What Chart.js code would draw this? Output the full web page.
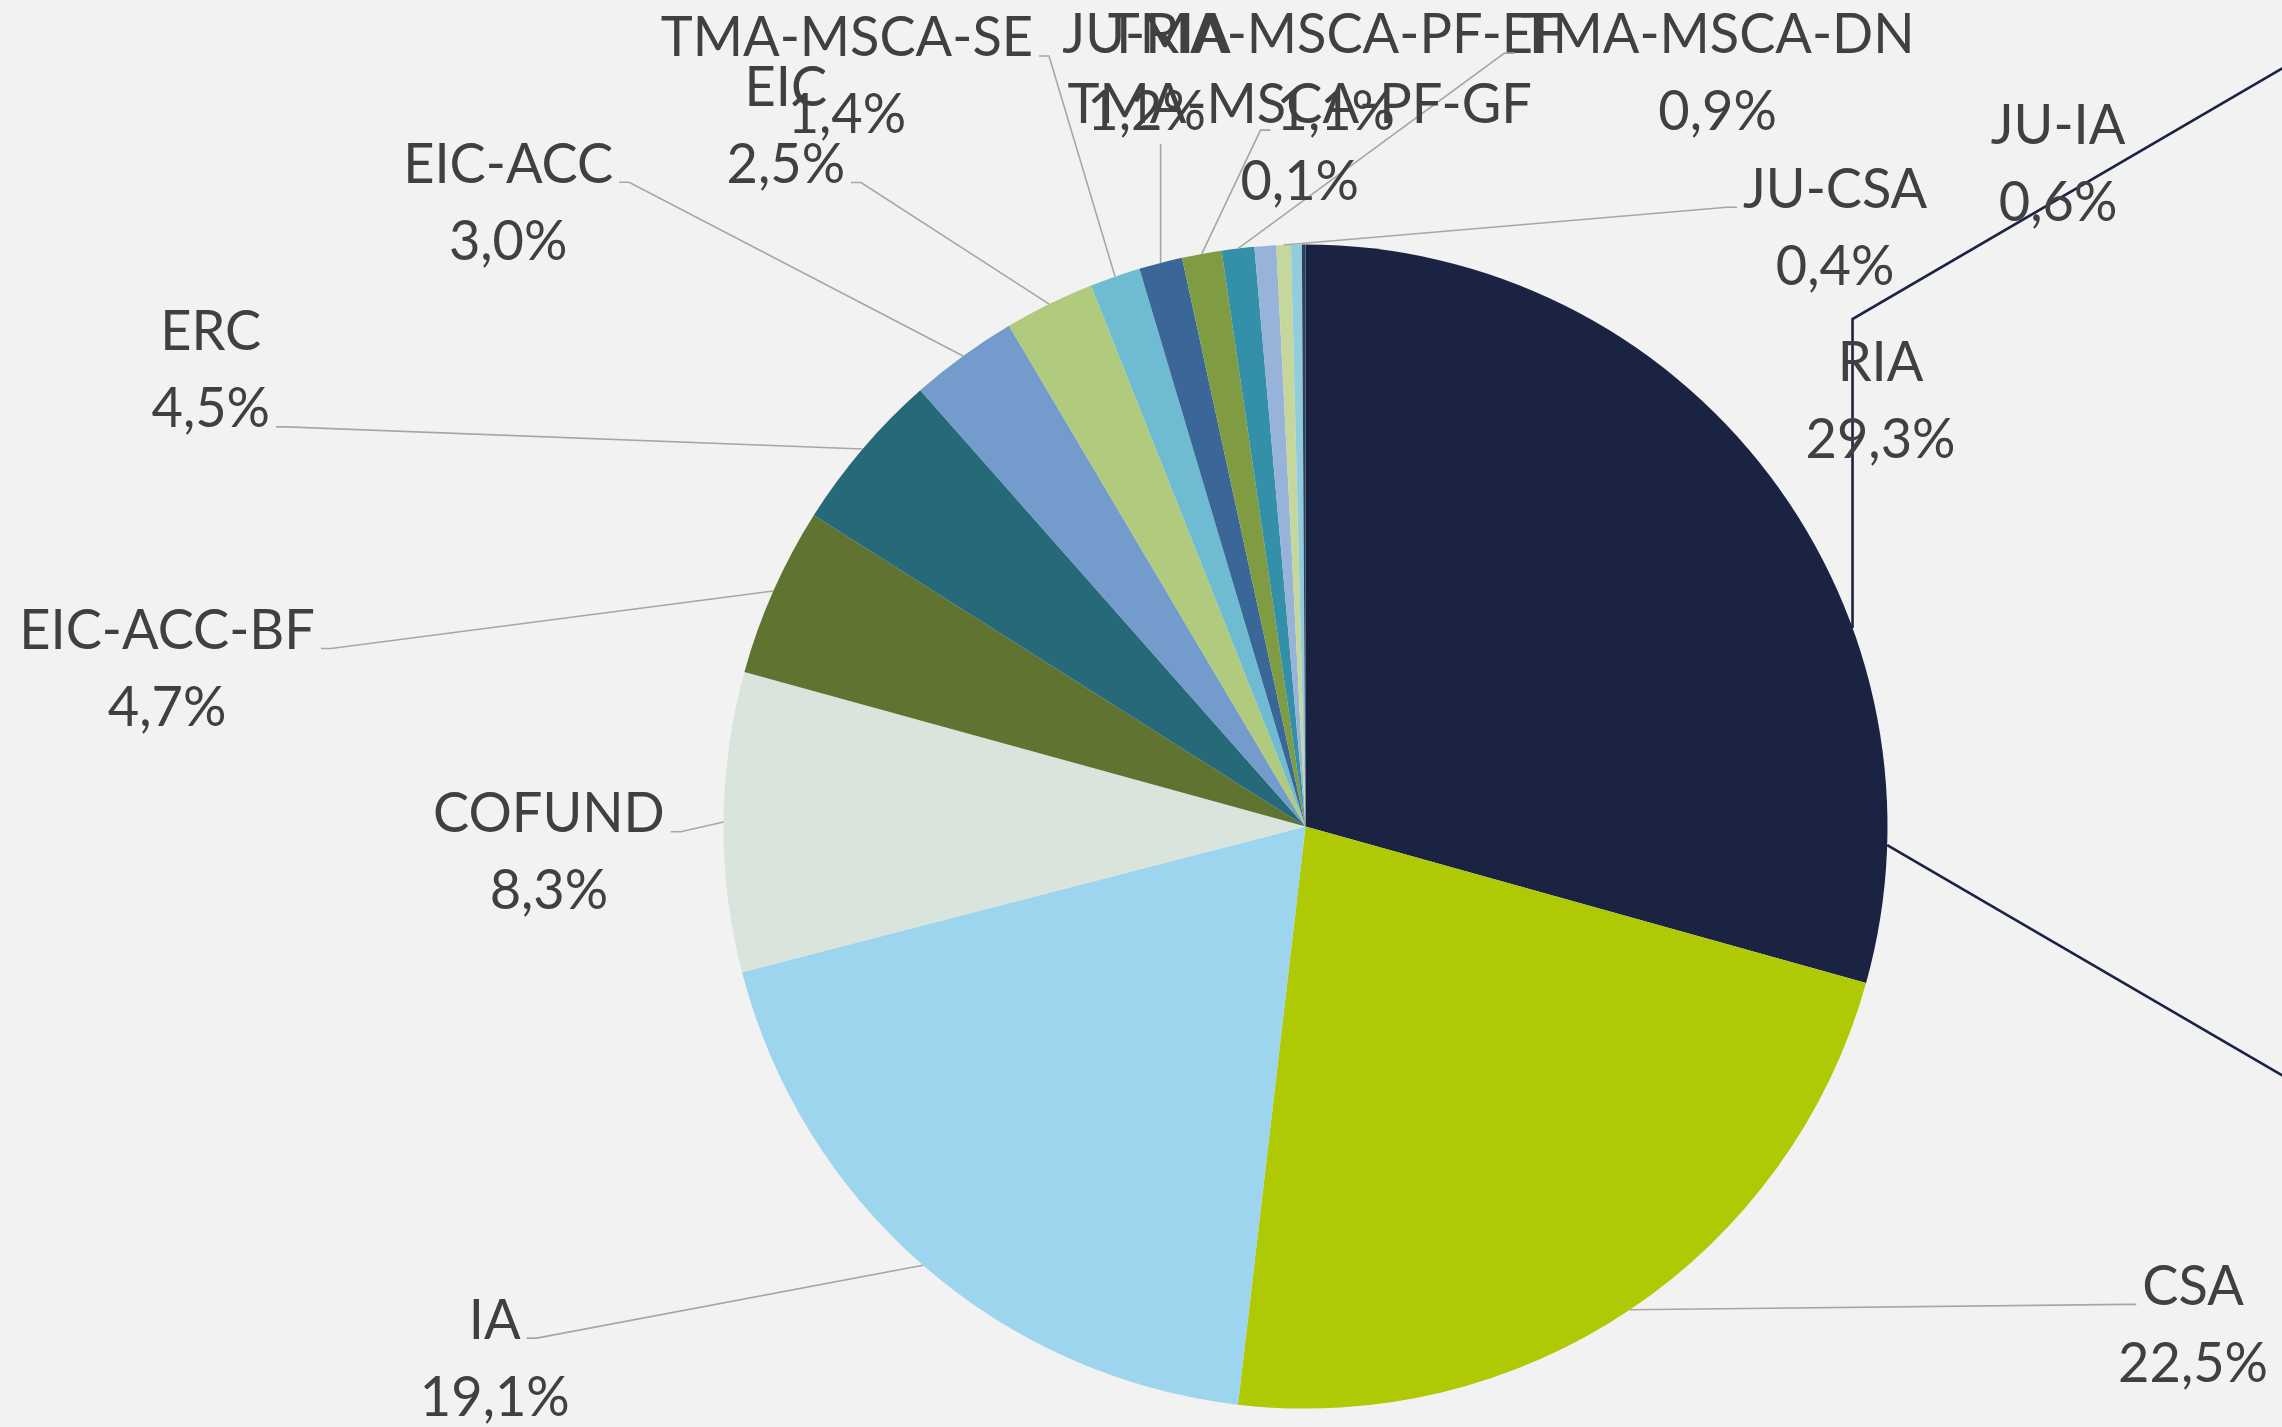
<!DOCTYPE html>
<html>
<head>
<meta charset="utf-8">
<script src="https://cdn.jsdelivr.net/npm/chart.js@4/dist/chart.umd.min.js"></script>
<style>
  html, body { margin: 0; padding: 0; background: #f2f2f2; }
  #wrap { width: 2282px; height: 1427px; position: relative; }
</style>
</head>
<body>
<div id="wrap"><canvas id="myChart"></canvas></div>
<script>
// categories clockwise from 12 o'clock
const categories = ['RIA', 'CSA', 'IA', 'COFUND', 'EIC-ACC-BF', 'ERC', 'EIC-ACC', 'EIC',
  'TMA-MSCA-SE', 'JU-RIA', 'TMA-MSCA-PF-EF', 'TMA-MSCA-DN', 'JU-IA', 'JU-CSA', '', 'TMA-MSCA-PF-GF']
const shares = [29.3, 22.5, 19.1, 8.3, 4.7, 4.5, 3.0, 2.5, 1.4, 1.2, 1.1, 0.9, 0.6, 0.4, 0.3, 0.1]
const colors = ['#1b2343', '#afca04', '#9dd4ee', '#d8e4dc', '#617330', '#266a7a', '#739bcb', '#b0ca7e',
  '#6fbcd2', '#3a6698', '#7f9c42', '#348fa8', '#97b3d9', '#c6d79c', '#92cddf', '#2b3f5e']

// label layout: centre of first text line, relative to pie centre, in radius units
const labelPos = [
  [0.988, -0.798], [1.525, 0.790], [-1.393, 0.848], [-1.300, -0.022], [-1.956, -0.337],
  [-1.881, -0.850], [-1.370, -1.138], [-0.893, -1.270], [-0.788, -1.355], [-0.273, -1.360],
  [0.052, -1.360], [0.708, -1.360], [1.293, -1.205], [0.910, -1.095], null, [-0.010, -1.240]
]
// where the leader line leaves the label: side (L/R/B) + text line
const labelLink = ['', 'L0', 'R0', 'R0', 'R0', 'R1', 'R0', 'R1', 'R0', 'B', 'L1', 'L0', '', 'L0', '', '']

const FONT_SIZE = 57
const SQUEEZE = 0.95 // Lato is a bit wider than the original Calibri
const LINE_H = 77

function pct(v) {
  return v.toFixed(1).replace('.', ',') + '%'
}

const outsideLabels = {
  id: 'outsideLabels',
  afterDatasetsDraw(chart) {
    const ctx = chart.ctx
    const arcs = chart.getDatasetMeta(0).data
    const cx = arcs[0].x, cy = arcs[0].y, R = arcs[0].outerRadius

    // pie-of-pie connector lines on the right
    ctx.save()
    ctx.strokeStyle = '#1b2343'
    ctx.lineWidth = 2.6
    const ux = 0.9399
    const slope = 0.5833
    ctx.beginPath()
    ctx.moveTo(cx + ux * R, cy - Math.sqrt(1 - ux * ux) * R)
    ctx.lineTo(cx + ux * R, cy - 0.872 * R)
    ctx.lineTo(chart.width + 10, cy - 0.872 * R - slope * (chart.width + 10 - (cx + ux * R)))
    ctx.stroke()
    const a2 = 1.82 * Math.PI / 180
    const sx = cx + Math.cos(a2) * R, sy = cy + Math.sin(a2) * R
    ctx.beginPath()
    ctx.moveTo(sx, sy)
    ctx.lineTo(chart.width + 10, sy + slope * (chart.width + 10 - sx))
    ctx.stroke()
    ctx.restore()

    ctx.save()
    ctx.font = FONT_SIZE + 'px Lato'
    ctx.textAlign = 'center'
    ctx.textBaseline = 'middle'
    arcs.forEach((arc, i) => {
      const pos = labelPos[i]
      if (!pos) return
      const lx = cx + pos[0] * R
      const ly = cy + pos[1] * R
      const lines = [categories[i], pct(shares[i])]

      const link = labelLink[i]
      if (link) {
        const mid = (arc.startAngle + arc.endAngle) / 2
        const tx = cx + Math.cos(mid) * R
        const ty = cy + Math.sin(mid) * R
        ctx.strokeStyle = '#a6a6a6'
        ctx.lineWidth = 1.6
        ctx.beginPath()
        if (link === 'B') {
          ctx.moveTo(tx, ly + LINE_H + 32)
          ctx.lineTo(tx, ty)
        } else {
          const li = +link[1]
          const w = ctx.measureText(lines[li]).width * SQUEEZE
          const y = ly + li * LINE_H + 18
          const dir = link[0] === 'R' ? 1 : -1
          const x0 = lx + dir * (w / 2 + 6)
          ctx.moveTo(x0, y)
          ctx.lineTo(x0 + dir * 10, y)
          ctx.lineTo(tx, ty)
        }
        ctx.stroke()
      }

      ctx.fillStyle = '#404040'
      lines.forEach((t, k) => {
        ctx.save()
        ctx.translate(lx, ly + k * LINE_H)
        ctx.scale(SQUEEZE, 1)
        ctx.fillText(t, 0, 0)
        ctx.restore()
      })
    })
    ctx.restore()
  }
}

function draw() {
  const ctx = document.getElementById('myChart').getContext('2d')
  new Chart(ctx, {
    type: 'pie',
    data: {
      labels: categories,
      datasets: [{
        data: shares,
        backgroundColor: colors,
        borderWidth: 0,
      }]
    },
    options: {
      responsive: true,
      maintainAspectRatio: false,
      animation: false,
      layout: { padding: { left: 605.5, right: 276.5, top: 244.6, bottom: 18.4 } },
      plugins: {
        legend: { display: false },
        tooltip: { enabled: false },
      }
    },
    plugins: [outsideLabels]
  })
}

if (document.fonts && document.fonts.load) {
  document.fonts.load(FONT_SIZE + 'px Lato').then(draw, draw)
} else {
  draw()
}
</script>
</body>
</html>
